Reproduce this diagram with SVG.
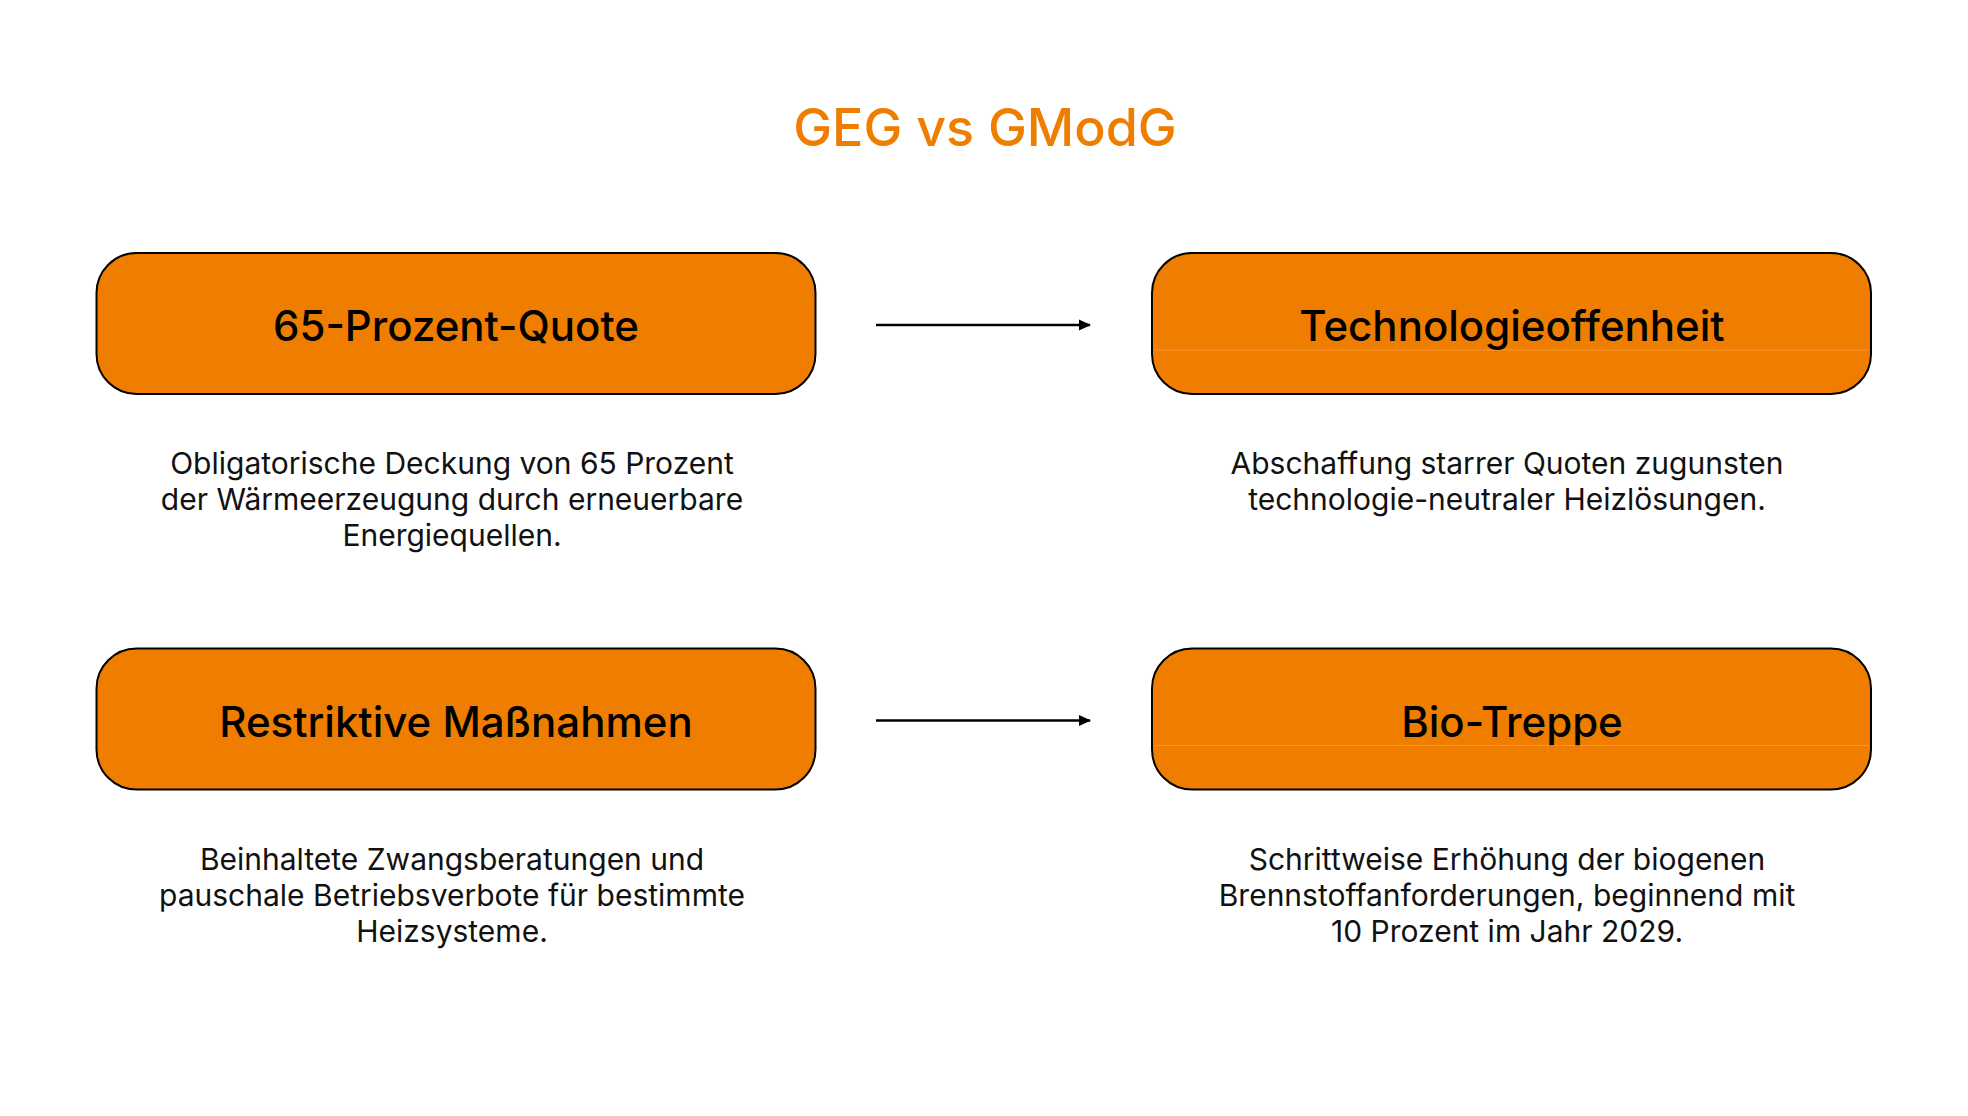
<svg xmlns="http://www.w3.org/2000/svg" width="1968" height="1116" viewBox="0 0 1968 1116">
<style>
.box{fill:#EF7D00;stroke:#000;stroke-width:2}
.lbl{font-family:Inter,"Liberation Sans",sans-serif;font-size:42px;font-weight:450;fill:#000;text-anchor:middle}
.desc{font-family:Inter,"Liberation Sans",sans-serif;font-size:30px;fill:#111;text-anchor:middle}
.title{font-family:Inter,"Liberation Sans",sans-serif;font-size:52px;font-weight:500;fill:#EF7D00;text-anchor:middle}
.conn{stroke:#000;stroke-width:2.5;fill:none}
.seam{stroke:#F59A33;stroke-width:1}
</style>
<defs>
<marker id="ah" markerWidth="12" markerHeight="12" refX="11" refY="6" orient="auto" markerUnits="userSpaceOnUse">
<path d="M0,0.5 L12,6 L0,11.5 Z" fill="#000"/>
</marker>
</defs>
<rect width="1968" height="1116" fill="#fff"/>
<text class="title" x="985" y="146">GEG vs GModG</text>
<g id="node-quote">
<rect class="box" x="96.5" y="253" width="719" height="141" rx="40" ry="40"/>
<text class="lbl" x="456" y="341">65-Prozent-Quote</text>
</g>
<g id="node-tech">
<rect class="box" x="1152" y="253" width="719" height="141" rx="40" ry="40"/>
<line class="seam" x1="1154" y1="350" x2="1869" y2="350"/>
<text class="lbl" x="1512" y="341">Technologieoffenheit</text>
</g>
<g id="node-restrict">
<rect class="box" x="96.5" y="648.5" width="719" height="141" rx="40" ry="40"/>
<text class="lbl" x="456" y="736.5">Restriktive Maßnahmen</text>
</g>
<g id="node-bio">
<rect class="box" x="1152" y="648.5" width="719" height="141" rx="40" ry="40"/>
<line class="seam" x1="1154" y1="745.5" x2="1869" y2="745.5"/>
<text class="lbl" x="1512" y="736.5">Bio-Treppe</text>
</g>
<g id="desc-quote">
<text class="desc" x="452" y="474">Obligatorische Deckung von 65 Prozent</text>
<text class="desc" x="452" y="510">der Wärmeerzeugung durch erneuerbare</text>
<text class="desc" x="452" y="546">Energiequellen.</text>
</g>
<g id="desc-tech">
<text class="desc" x="1507" y="474">Abschaffung starrer Quoten zugunsten</text>
<text class="desc" x="1507" y="510">technologie-neutraler Heizlösungen.</text>
</g>
<g id="desc-restrict">
<text class="desc" x="452" y="870">Beinhaltete Zwangsberatungen und</text>
<text class="desc" x="452" y="906">pauschale Betriebsverbote für bestimmte</text>
<text class="desc" x="452" y="942">Heizsysteme.</text>
</g>
<g id="desc-bio">
<text class="desc" x="1507" y="870">Schrittweise Erhöhung der biogenen</text>
<text class="desc" x="1507" y="906">Brennstoffanforderungen, beginnend mit</text>
<text class="desc" x="1507" y="942">10 Prozent im Jahr 2029.</text>
</g>
<g id="connectors">
<line class="conn" x1="876" y1="325" x2="1090" y2="325" marker-end="url(#ah)"/>
<line class="conn" x1="876" y1="720.5" x2="1090" y2="720.5" marker-end="url(#ah)"/>
</g>
</svg>
